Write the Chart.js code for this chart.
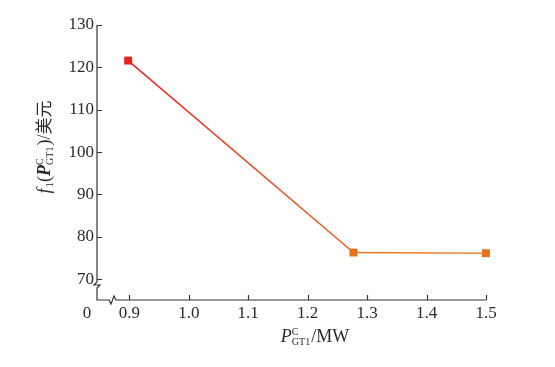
<!DOCTYPE html>
<html>
<head>
<meta charset="utf-8">
<script src="https://cdn.jsdelivr.net/npm/chart.js@4.4.1/dist/chart.umd.min.js"></script>
<style>
  html, body { margin: 0; padding: 0; background: #fff; }
  #wrap { width: 555px; height: 367px; }
</style>
</head>
<body>
<div id="wrap"><canvas id="costChart"></canvas></div>
<script>
// values
const powerMW = [0.898, 1.277, 1.5];
const costUSD = [121.6, 76.3, 76.15];
const xTicks = [0.9, 1.0, 1.1, 1.2, 1.3, 1.4, 1.5];
const yTicks = [70, 80, 90, 100, 110, 120, 130];
const markerColors = ['#e8221b', '#e8721c', '#e8721c'];

const serif = '"Liberation Serif", "Times New Roman", serif';
const cjk = '"Noto Sans CJK SC", sans-serif';

// draw a run of text pieces, each with its own font and baseline shift
function richText(ctx, pieces, x, y, align) {
  let total = 0;
  pieces.forEach(p => {
    ctx.font = p.font;
    p.w = ctx.measureText(p.text).width;
    if (p.stack) {
      ctx.font = p.stack.font;
      p.w = Math.max(p.w, ctx.measureText(p.stack.text).width);
    }
    total += p.w + (p.gap || 0);
  });
  let cx = align === 'center' ? x - total / 2 : x;
  ctx.textBaseline = 'alphabetic';
  ctx.textAlign = 'left';
  pieces.forEach(p => {
    ctx.font = p.font;
    ctx.fillText(p.text, cx, y + (p.dy || 0));
    if (p.stack) {
      ctx.font = p.stack.font;
      ctx.fillText(p.stack.text, cx, y + p.stack.dy);
    }
    cx += p.w + (p.gap || 0);
  });
}

const axesPlugin = {
  id: 'brokenAxes',
  afterDatasetsDraw(chart) {
    const ctx = chart.ctx;
    const xs = chart.scales.x, ys = chart.scales.y;
    const left = chart.chartArea.left, bottom = chart.chartArea.bottom;
    const top = ys.getPixelForValue(130), right = xs.getPixelForValue(1.5);
    ctx.save();
    ctx.strokeStyle = '#333';
    ctx.lineWidth = 1.2;
    ctx.beginPath();
    // y axis with break
    ctx.moveTo(left, top);
    ctx.lineTo(left, 282);
    ctx.lineTo(left - 3, 285);
    ctx.lineTo(left + 3, 285);
    ctx.lineTo(left, 288);
    ctx.lineTo(left, bottom);
    // x axis with break
    ctx.lineTo(left + 12, bottom);
    ctx.lineTo(left + 14, bottom + 4);
    ctx.lineTo(left + 17, bottom - 4);
    ctx.lineTo(left + 19, bottom);
    ctx.lineTo(right, bottom);
    // inward ticks
    yTicks.forEach(v => {
      const py = Math.round(ys.getPixelForValue(v)) + 0.5;
      ctx.moveTo(left, py);
      ctx.lineTo(left + 5, py);
    });
    xTicks.forEach(v => {
      const px = Math.round(xs.getPixelForValue(v)) + 0.5;
      ctx.moveTo(px, bottom);
      ctx.lineTo(px, bottom - 5);
    });
    ctx.stroke();

    ctx.fillStyle = '#2a2a2a';
    ctx.font = '17px ' + serif;
    ctx.textAlign = 'right';
    ctx.textBaseline = 'middle';
    yTicks.forEach(v => ctx.fillText(String(v), left - 3, ys.getPixelForValue(v)));
    ctx.textAlign = 'center';
    ctx.textBaseline = 'top';
    xTicks.forEach(v => ctx.fillText(v.toFixed(1), xs.getPixelForValue(v), bottom + 5));
    ctx.fillText('0', left - 10, bottom + 5);

    // x title: P^C_GT1/MW
    richText(ctx, [
      { text: 'P', font: 'italic 18px ' + serif },
      { text: 'C', font: '10px ' + serif, dy: -7, stack: { text: 'GT1', font: '10px ' + serif, dy: 3 }, gap: 1 },
      { text: '/MW', font: '18px ' + serif }
    ], 315, 342, 'center');

    // y title, rotated
    ctx.save();
    ctx.translate(44, 147);
    ctx.rotate(-Math.PI / 2);
    richText(ctx, [
      { text: 'f', font: 'italic 18px ' + serif, gap: 1 },
      { text: '1', font: '11px ' + serif, dy: 3 },
      { text: '(', font: '18px ' + serif },
      { text: 'P', font: 'italic bold 18px ' + serif },
      { text: 'C', font: '10px ' + serif, dy: -7, stack: { text: 'GT1', font: '10px ' + serif, dy: 3 }, gap: 1 },
      { text: ')/', font: '18px ' + serif },
      { text: '美元', font: '17px ' + cjk }
    ], 0, 6, 'center');
    ctx.restore();
    ctx.restore();
  }
};

new Chart(document.getElementById('costChart'), {
  type: 'scatter',
  data: {
    datasets: [{
      data: powerMW.map((v, i) => ({ x: v, y: costUSD[i] })),
      showLine: true,
      clip: false,
      borderWidth: 1.5,
      pointStyle: 'rect',
      pointRadius: 5.6,
      pointHoverRadius: 5.6,
      pointBackgroundColor: markerColors,
      pointBorderColor: markerColors,
      pointBorderWidth: 0,
      segment: {
        borderColor: c => {
          const g = c.chart.ctx.createLinearGradient(c.p0.x, c.p0.y, c.p1.x, c.p1.y);
          g.addColorStop(0, c.p0DataIndex === 0 ? '#e8221b' : '#e8741e');
          g.addColorStop(1, c.p0DataIndex === 0 ? '#e8621c' : '#ea8a3a');
          return g;
        }
      }
    }]
  },
  options: {
    responsive: true,
    maintainAspectRatio: false,
    animation: false,
    layout: { padding: { left: 97, right: 69, top: 25, bottom: 67 } },
    plugins: { legend: { display: false }, tooltip: { enabled: false } },
    scales: {
      x: { type: 'linear', display: false, min: 0.8456, max: 1.5 },
      y: { type: 'linear', display: false, min: 65.1, max: 130 }
    }
  },
  plugins: [axesPlugin]
});
</script>
</body>
</html>
